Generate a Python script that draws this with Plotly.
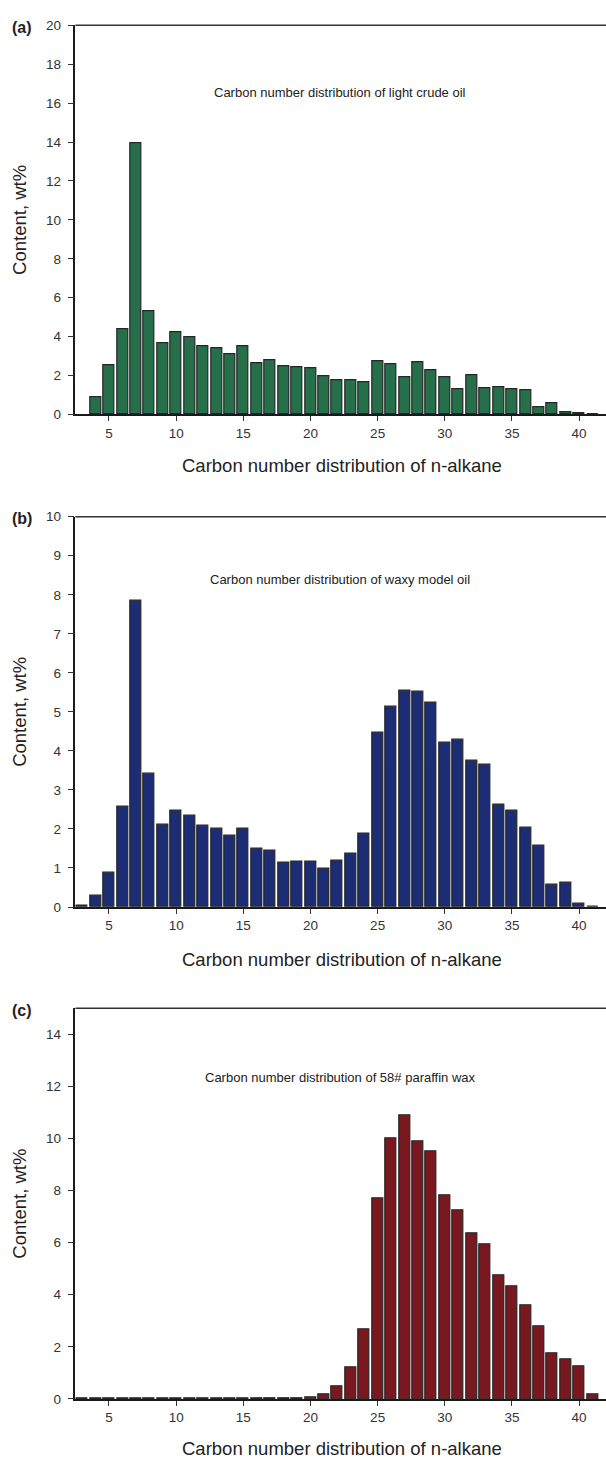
import plotly.graph_objects as go

# Carbon numbers of the n-alkanes
carbon_a = list(range(4, 42))
carbon_bc = list(range(3, 42))

# (a) light crude oil, wt%
light_crude = [0.88, 2.54, 4.36, 13.95, 5.32, 3.64, 4.22, 3.95, 3.51, 3.42,
               3.08, 3.51, 2.63, 2.80, 2.49, 2.44, 2.39, 1.95, 1.78, 1.75,
               1.64, 2.71, 2.59, 1.93, 2.68, 2.27, 1.92, 1.27, 2.03, 1.37,
               1.39, 1.27, 1.24, 0.39, 0.56, 0.10, 0.07, 0.02]

# (b) waxy model oil, wt%
waxy_model = [0.02, 0.28, 0.87, 2.58, 7.84, 3.41, 2.12, 2.46, 2.34, 2.09,
              2.00, 1.82, 2.00, 1.49, 1.45, 1.13, 1.15, 1.16, 0.99, 1.19,
              1.36, 1.89, 4.47, 5.14, 5.53, 5.51, 5.24, 4.22, 4.28, 3.75,
              3.65, 2.62, 2.46, 2.03, 1.56, 0.58, 0.62, 0.08, 0.01]

# (c) 58# paraffin wax, wt%
paraffin = [0.01, 0.01, 0.02, 0.03, 0.01, 0.01, 0.01, 0.02, 0.02, 0.02,
            0.02, 0.02, 0.02, 0.03, 0.02, 0.02, 0.04, 0.07, 0.16, 0.49,
            1.22, 2.68, 7.70, 9.99, 10.88, 9.91, 9.52, 7.82, 7.25, 6.37,
            5.92, 4.73, 4.31, 3.59, 2.77, 1.75, 1.53, 1.25, 0.18]

panel_labels = ["(a)", "(b)", "(c)"]
panel_titles = ["Carbon number distribution of light crude oil",
                "Carbon number distribution of waxy model oil",
                "Carbon number distribution of 58# paraffin wax"]
x_title = "Carbon number distribution of n-alkane"
y_title = "Content, wt%"
x_ticks = [5, 10, 15, 20, 25, 30, 35, 40]

W, H = 606, 1467
FONT = "Liberation Sans, Arial, sans-serif"


def py(pix):
    """Convert a pixel row (from top) to paper coordinates."""
    return 1 - pix / H


def px(pix):
    return pix / W


# plot-area extents in pixels: (top, bottom)
panels = [(18.5, 411.7), (515.0, 909.3), (1011.7, 1406.3)]
y_ranges = [[0, 20], [0, 10], [0, 15]]
y_dticks = [2, 1, 2]
annot_y = [16.55, 8.39, 12.34]
x_title_pix = [463, 962, 1456]
colors = ["#25704A", "#1C2C75", "#7A1820"]
series = [(carbon_a, light_crude), (carbon_bc, waxy_model), (carbon_bc, paraffin)]

x_left = 75.4
fig = go.Figure()
annotations = []
shapes = []

for i in range(3):
    xa = "x" if i == 0 else f"x{i+1}"
    ya = "y" if i == 0 else f"y{i+1}"
    xs, ys = series[i]
    fig.add_trace(go.Bar(
        x=xs, y=ys, xaxis=xa, yaxis=ya, width=0.82,
        marker=dict(color=colors[i], line=dict(color="#262626", width=1.2)),
        showlegend=False, hoverinfo="x+y",
    ))
    top, bot = panels[i]
    axis_common = dict(showgrid=False, zeroline=False, ticks="outside",
                       tickcolor="#333333",
                       tickfont=dict(family=FONT, size=13.5, color="#333333"))
    fig.update_layout(**{
        ("xaxis" if i == 0 else f"xaxis{i+1}"): dict(
            domain=[px(x_left), 1.0], range=[2.5, 42.0], anchor=ya,
            tickvals=x_ticks, ticklen=5, tickwidth=1.2,
            showline=True, linecolor="#1a1a1a", linewidth=2, **axis_common),
        ("yaxis" if i == 0 else f"yaxis{i+1}"): dict(
            domain=[py(bot), py(top)], range=y_ranges[i], anchor=xa,
            dtick=y_dticks[i], tick0=0, ticklen=6, tickwidth=1.2,
            ticklabelstandoff=4,
            showline=True, linecolor="#1a1a1a", linewidth=1.5, **axis_common),
    })
    # top frame line
    shapes.append(dict(type="line", xref=f"{xa} domain", yref=f"{ya} domain",
                       x0=0, x1=1, y0=1, y1=1,
                       line=dict(color="#333333", width=1.5)))
    annotations.append(dict(text=panel_titles[i], xref=xa, yref=ya,
                            x=22.2, y=annot_y[i], showarrow=False,
                            xanchor="center", yanchor="middle",
                            font=dict(family=FONT, size=13, color="#222222")))
    annotations.append(dict(text=x_title, xref="paper", yref="paper",
                            x=px(342), y=py(x_title_pix[i]), showarrow=False,
                            xanchor="center", yanchor="middle",
                            font=dict(family=FONT, size=18.5, color="#222222")))
    annotations.append(dict(text=y_title, xref="paper", yref="paper",
                            x=px(20), y=py((top + bot) / 2), textangle=-90,
                            showarrow=False, xanchor="center", yanchor="middle",
                            font=dict(family=FONT, size=18.5, color="#222222")))
    annotations.append(dict(text=f"<b>{panel_labels[i]}</b>", xref="paper",
                            yref="paper", x=px(22), y=py(top + 2),
                            showarrow=False, xanchor="center", yanchor="middle",
                            font=dict(family=FONT, size=16, color="#222222")))

fig.update_layout(width=W, height=H, margin=dict(l=0, r=0, t=0, b=0),
                  paper_bgcolor="white", plot_bgcolor="white",
                  annotations=annotations, shapes=shapes, bargap=0)

fig.write_html("out.html")
